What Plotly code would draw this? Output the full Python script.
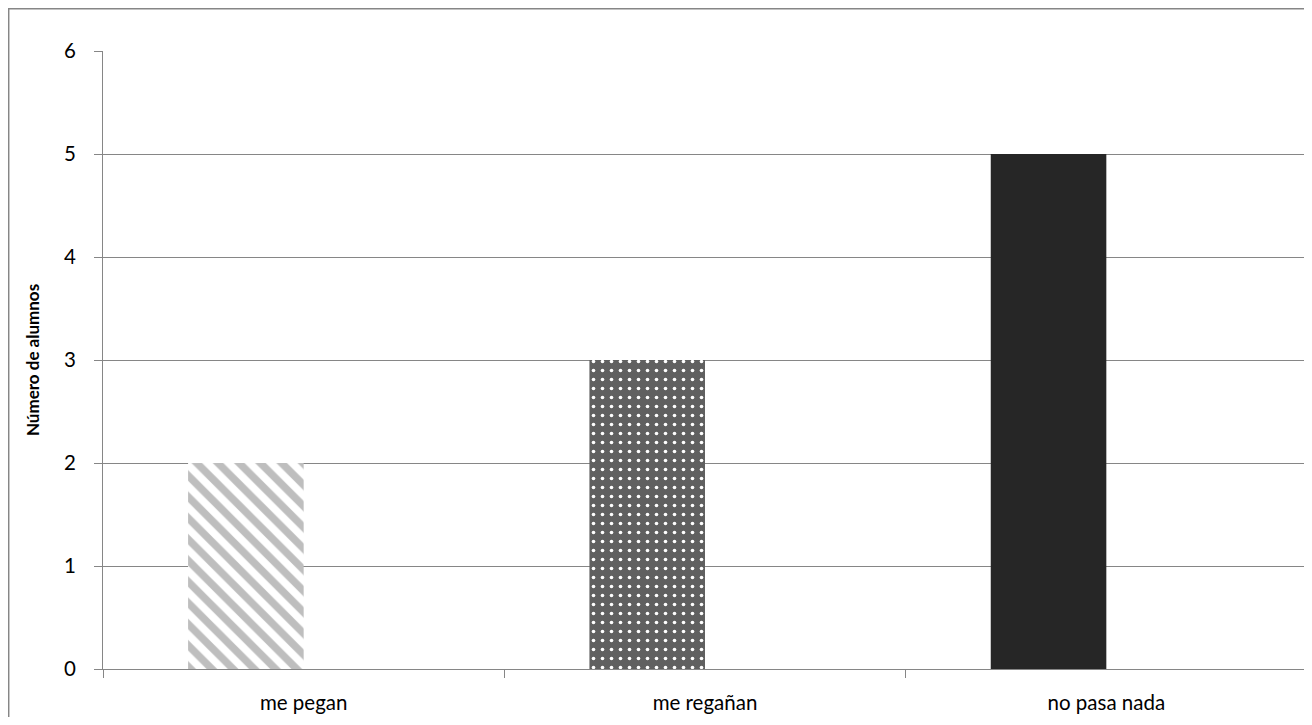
import plotly.graph_objects as go

categories = ["me pegan", "me regañan", "no pasa nada"]
values = [2, 3, 5]
y_ticks = [0, 1, 2, 3, 4, 5, 6]

bar_bg = ["#ffffff", "#606060", "#262626"]
bar_fg = ["#bebebe", "#ffffff", "#262626"]
bar_shape = ["\\", ".", ""]
bar_size = [15, 9, 8]
bar_solid = [0.5, 0.13, 0.3]

fig = go.Figure()
for i in range(len(categories)):
    fig.add_trace(go.Bar(
        x=[categories[i]], y=[values[i]],
        marker=dict(
            color=bar_bg[i],
            line=dict(width=0),
            pattern=dict(
                shape=bar_shape[i],
                fgcolor=bar_fg[i],
                bgcolor=bar_bg[i],
                size=bar_size[i],
                solidity=bar_solid[i],
                fillmode="overlay",
                fgopacity=1,
            ),
        ),
        width=0.288,
        offset=-0.288,
        showlegend=False,
    ))

# page offset from default body margin
OFF = 8
W, H = 1302, 709
L, T = 103 - OFF, 51 - OFF
R = W - (1307 - OFF)
B = H - (671 - OFF)
pw = W - L - R
ph = H - T - B

def px_x(x):
    return (x - OFF - L) / pw

def px_y(y):
    return (H - B - (y - OFF)) / ph

fig.update_layout(
    width=W, height=H,
    barmode="overlay",
    margin=dict(l=L, r=R, t=T, b=B),
    paper_bgcolor="white", plot_bgcolor="white",
    font=dict(family="Lato, Open Sans, sans-serif", size=20, color="#000000"),
    xaxis=dict(
        type="category",
        showline=True, linecolor="#868686", linewidth=1,
        ticks="outside", tickson="boundaries", ticklen=8, tickcolor="#868686",
        showgrid=False,
        ticklabelstandoff=15,
        tickfont=dict(size=20.5),
    ),
    yaxis=dict(
        range=[0, 6], tickvals=y_ticks,
        showline=True, linecolor="#868686", linewidth=1,
        ticks="outside", ticklen=8, tickcolor="#868686",
        showgrid=True, gridcolor="#868686", gridwidth=1,
        zeroline=False,
        ticklabelstandoff=14,
        tickfont=dict(size=20.5),
        title=dict(text="<b>Número de alumnos</b>", font=dict(size=17), standoff=20),
    ),
    shapes=[
        dict(type="rect", xref="paper", yref="paper",
             x0=px_x(8.7), x1=px_x(1309.3), y0=px_y(760), y1=px_y(8.7),
             line=dict(color="#868686", width=1.5), fillcolor="rgba(0,0,0,0)", layer="below"),
    ],
)

fig.write_html("out.html")
